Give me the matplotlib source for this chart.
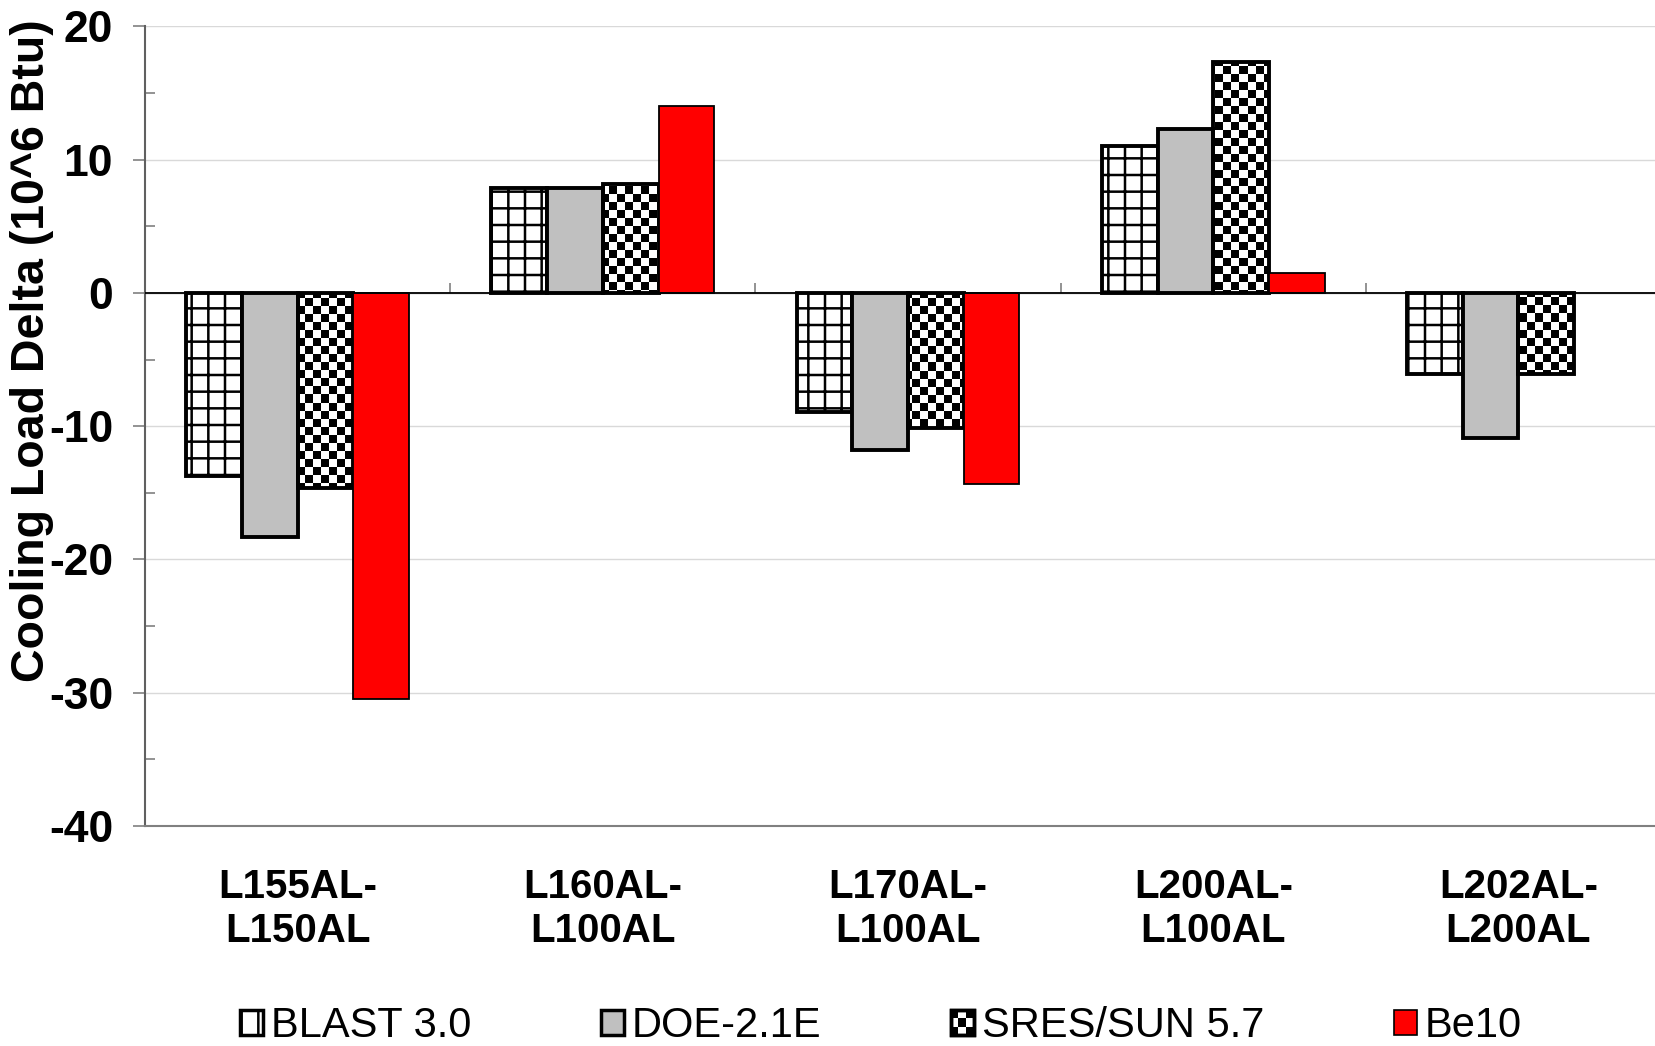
import matplotlib
matplotlib.use("Agg")
import matplotlib.pyplot as plt
import numpy as np
from matplotlib.patches import Patch, Rectangle
from matplotlib.legend_handler import HandlerBase

plt.rcParams["font.family"] = ["Liberation Sans", "DejaVu Sans"]
plt.rcParams["hatch.linewidth"] = 1.8

# ---- data ----
categories = ["L155AL-\nL150AL", "L160AL-\nL100AL", "L170AL-\nL100AL",
              "L200AL-\nL100AL", "L202AL-\nL200AL"]
series = ["BLAST 3.0", "DOE-2.1E", "SRES/SUN 5.7", "Be10"]
blast = [-13.7, 7.9, -8.9, 11.0, -6.1]
doe = [-18.3, 7.85, -11.8, 12.3, -10.85]
sres = [-14.6, 8.2, -10.1, 17.35, -6.1]
be10 = [-30.5, 14.0, -14.3, 1.5, np.nan]
yticks = [-40, -30, -20, -10, 0, 10, 20]


class HandlerChecker(HandlerBase):
    def create_artists(self, legend, orig_handle, xdescent, ydescent,
                       width, height, fontsize, trans):
        arts = [Rectangle((-xdescent, -ydescent), width, height,
                          facecolor="white", edgecolor="black", lw=2.5,
                          transform=trans)]
        n = 3
        cw, ch = width / n, height / n
        for i in range(n):
            for j in range(n):
                if (i + j) % 2 == 0:
                    arts.append(Rectangle((-xdescent + i * cw, -ydescent + j * ch),
                                          cw, ch, facecolor="black",
                                          edgecolor="none", transform=trans))
        arts.append(Rectangle((-xdescent, -ydescent), width, height,
                              facecolor="none", edgecolor="black", lw=2.5,
                              transform=trans))
        return arts


fig = plt.figure(figsize=(16.56, 10.46), dpi=100)
ax = fig.add_axes([0.0876, 0.2103, 0.9215, 0.7645])

x = np.arange(len(categories))
w = 0.1825
lw = 2.8
ax.bar(x - 1.5 * w, blast, w, facecolor="white", edgecolor="black",
       hatch="+", linewidth=lw, zorder=3)
ax.bar(x - 0.5 * w, doe, w, facecolor="#c0c0c0", edgecolor="black",
       linewidth=lw, zorder=3)
sres_bars = ax.bar(x + 0.5 * w, sres, w, facecolor="white", edgecolor="black",
                   linewidth=lw, zorder=3)
ax.bar(x + 1.5 * w, be10, w, facecolor="#ff0000", edgecolor="black",
       linewidth=1.3, zorder=3)

# checkerboard fill for SRES bars
rows, cols = 100, 191
checker = (np.add.outer(np.arange(rows), np.arange(cols)) % 2).astype(float)
for b in sres_bars:
    im = ax.imshow(checker, cmap="gray", extent=(-0.5, 4.5, -40, 20),
                   aspect="auto", interpolation="nearest", zorder=2.5)
    im.set_clip_path(b)
    b.set_facecolor("none")

ax.set_xlim(-0.5, 4.5)
ax.set_ylim(-40, 20)
ax.set_yticks(yticks)
ax.set_yticklabels([str(t) for t in yticks], fontsize=32, fontweight="bold")
ax.set_yticks(np.arange(-35, 20, 10), minor=True)
ax.tick_params(axis="y", which="major", direction="out", length=9,
               width=1.2, color="#808080", pad=14)
ax.tick_params(axis="y", which="minor", direction="in", length=7,
               width=1.2, color="#808080")
ax.grid(axis="y", which="major", color="#d9d9d9", linewidth=1.0, zorder=0)
ax.axhline(0, color="black", linewidth=1.3, zorder=4)

ax.set_xticks(x)
ax.set_xticklabels(categories, fontsize=29, fontweight="bold", linespacing=1.2)
ax.tick_params(axis="x", which="major", length=0, pad=30)

# boundary ticks on the zero line
sec = ax.secondary_xaxis(2 / 3)
sec.set_xticks(x[:-1] + 0.5)
sec.set_xticklabels([])
sec.tick_params(direction="out", length=7, width=1.2, color="#808080")
sec.spines["bottom"].set_visible(False)

for s in ["top", "right"]:
    ax.spines[s].set_visible(False)
ax.spines["left"].set_color("#606060")
ax.spines["left"].set_linewidth(1.5)
ax.spines["bottom"].set_color("#808080")
ax.spines["bottom"].set_linewidth(1.5)

fig.text(0.0195, 1 - 351 / 1046, "Cooling Load Delta (10^6 Btu)", rotation=90,
         fontsize=33.5, fontweight="bold", ha="center", va="center")

handles = [Patch(facecolor="white", edgecolor="black", hatch="|", lw=2.5),
           Patch(facecolor="#c0c0c0", edgecolor="black", lw=2.5),
           Patch(facecolor="white", edgecolor="black"),
           Patch(facecolor="#ff0000", edgecolor="black", lw=1.2)]
fig.legend(handles, series, loc="center", bbox_to_anchor=(0.532, 0.019),
           ncol=4, frameon=False, fontsize=30, handlelength=0.55,
           handleheight=0.55, handletextpad=0.2, columnspacing=3.1,
           handler_map={handles[2]: HandlerChecker()})

fig.savefig("out.png", dpi=100)
